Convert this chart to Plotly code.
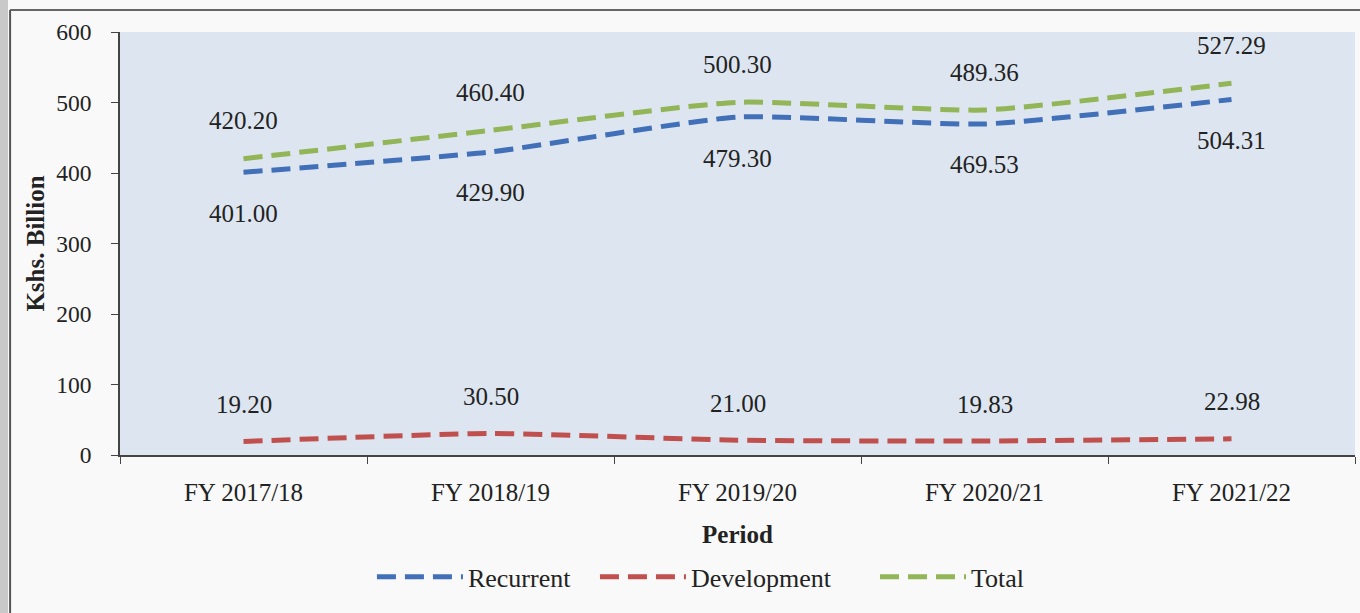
import plotly.graph_objects as go

periods = ["FY 2017/18", "FY 2018/19", "FY 2019/20", "FY 2020/21", "FY 2021/22"]
recurrent = [401.00, 429.90, 479.30, 469.53, 504.31]
development = [19.20, 30.50, 21.00, 19.83, 22.98]
total = [420.20, 460.40, 500.30, 489.36, 527.29]
series_names = ["Recurrent", "Development", "Total"]

FONT = "Liberation Serif"
colors = {"Recurrent": "#4270b8", "Development": "#c0504d", "Total": "#92b557"}
pad = {"Recurrent": "\u00a0" * 3, "Development": "\u00a0" * 6, "Total": ""}

fig = go.Figure()
for name, vals in zip(series_names, [recurrent, development, total]):
    fig.add_trace(go.Scatter(
        x=periods, y=vals, mode="lines", name=name + pad[name],
        line=dict(color=colors[name], width=5, dash="19px,9px", shape="spline", smoothing=0.5),
    ))

LBL = dict(family=FONT, size=25, color="#222")
annotations = []
for x, v in zip(periods, total):
    annotations.append(dict(x=x, y=v, text=f"{v:.2f}", showarrow=False, yshift=38, font=LBL))
for x, v in zip(periods, recurrent):
    annotations.append(dict(x=x, y=v, text=f"{v:.2f}", showarrow=False, yshift=-41, font=LBL))
for x, v in zip(periods, development):
    annotations.append(dict(x=x, y=v, text=f"{v:.2f}", showarrow=False, yshift=37, font=LBL))

shapes = [
    dict(type="rect", xref="paper", yref="paper", x0=-0.0972, x1=-0.0907, y0=-0.40, y1=1.08,
         fillcolor="#c9c9c9", line=dict(width=0), layer="below"),
    dict(type="line", xref="paper", yref="paper", x0=-0.089, x1=1.01, y0=1.052, y1=1.052,
         line=dict(color="#666", width=2)),
    dict(type="line", xref="paper", yref="paper", x0=-0.089, x1=-0.089, y0=-0.40, y1=1.052,
         line=dict(color="#555", width=2)),
]

fig.update_layout(
    width=1360, height=613,
    margin=dict(l=120, r=5, t=32, b=158),
    paper_bgcolor="#f9f9f9",
    plot_bgcolor="#dde6f0",
    font=dict(family=FONT, size=21, color="#222"),
    showlegend=True,
    legend=dict(orientation="h", x=0.204, xanchor="left", y=-0.288, yanchor="middle",
                font=dict(family=FONT, size=26, color="#222"), itemwidth=86,
                bgcolor="rgba(0,0,0,0)"),
    annotations=annotations,
    shapes=shapes,
    xaxis=dict(
        type="category", range=[-0.5, 4.5], showgrid=False, showline=True,
        linecolor="#444", linewidth=1.5, ticks="outside", tickson="boundaries",
        ticklen=7, tickcolor="#444", tickfont=dict(family=FONT, size=25),
        ticklabelstandoff=14,
        title=dict(text="<b>Period</b>", font=dict(family=FONT, size=25), standoff=21),
    ),
    yaxis=dict(
        range=[0, 600], dtick=100, showgrid=False, zeroline=False, showline=True,
        linecolor="#444", linewidth=1.5, ticks="outside", ticklen=7, tickcolor="#444",
        tickfont=dict(family=FONT, size=23.5), ticklabelstandoff=15,
        title=dict(text="<b>Kshs. Billion</b>", font=dict(family=FONT, size=25), standoff=5),
    ),
)

fig.write_html("out.html", config={"displayModeBar": False},
               post_script="document.body.style.margin='0';document.body.style.overflow='hidden';")
